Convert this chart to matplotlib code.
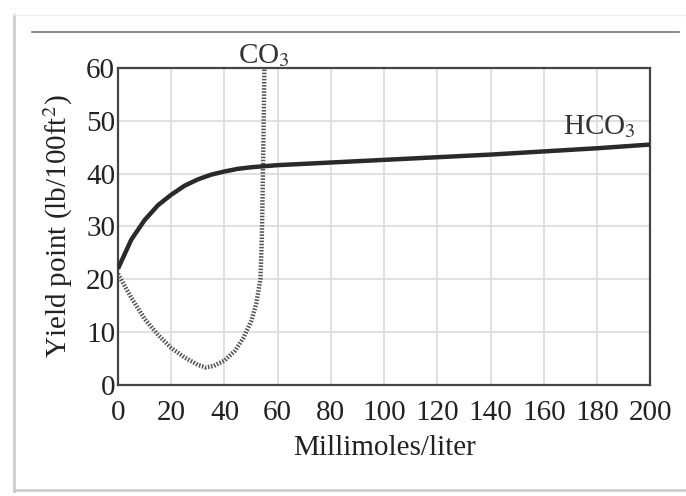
import matplotlib
matplotlib.use("Agg")
import matplotlib.pyplot as plt
from matplotlib.lines import Line2D

# HCO3 curve (solid)
hco3_x = [0, 5, 10, 15, 20, 25, 30, 35, 40, 45, 50, 60, 80, 100, 120, 140, 160, 180, 200]
hco3_y = [22, 27.5, 31.2, 34.0, 36.0, 37.7, 38.9, 39.8, 40.4, 40.9, 41.2, 41.6, 42.1, 42.6, 43.1, 43.6, 44.2, 44.8, 45.5]

# CO3 curve (dotted)
co3_x = [0, 5, 10, 15, 20, 25, 30, 33, 36, 40, 44, 47, 50, 52, 53.5, 54, 54.3, 54.6, 54.8, 55]
co3_y = [21, 16.5, 12.5, 9.5, 7.0, 5.2, 3.8, 3.3, 3.6, 4.6, 6.5, 8.8, 12.0, 15.5, 20.0, 27.0, 35.0, 45.0, 52.0, 60.0]

xticks = [0, 20, 40, 60, 80, 100, 120, 140, 160, 180, 200]
yticks = [0, 10, 20, 30, 40, 50, 60]

plt.rcParams["font.family"] = ["Liberation Serif", "DejaVu Serif"]
plt.rcParams["mathtext.fontset"] = "stix"

fig = plt.figure(figsize=(6.86, 4.96), dpi=100)
ax = fig.add_axes([0.172, 0.224, 0.776, 0.639])

ax.plot(co3_x, co3_y, color="#555555", lw=3.2, linestyle=(0, (0.35, 0.35)), zorder=3)
ax.plot(hco3_x, hco3_y, color="#2a2a2a", lw=3.2, solid_capstyle="butt", zorder=4)

ax.set_xlim(0, 200)
ax.set_ylim(0, 60)
ax.set_xticks(xticks)
ax.set_yticks(yticks)
ax.grid(True, color="#dcdcdc", lw=1.2)
ax.set_axisbelow(True)
ax.tick_params(length=0, labelsize=21, colors="#222222")
ax.tick_params(axis="x", pad=11)
ax.tick_params(axis="y", pad=2)
for s in ax.spines.values():
    s.set_color("#444444")
    s.set_linewidth(1.6)

ax.set_xlabel("Millimoles/liter", fontsize=21, color="#222222", labelpad=6)
ax.set_ylabel("Yield point (lb/100ft$^2$)", fontsize=21, color="#222222", labelpad=8)

ax.text(55, 59.8, "CO$_3$", ha="center", va="bottom", fontsize=21, color="#333333")
ax.text(181, 46.3, "HCO$_3$", ha="center", va="bottom", fontsize=21, color="#333333")

# page frame
fig.add_artist(Line2D([0.047, 0.99], [0.935, 0.935], color="#777777", lw=1.2))
fig.add_artist(Line2D([0.02, 0.02], [0.01, 0.97], color="#cccccc", lw=2))
fig.add_artist(Line2D([0.02, 1.0], [0.012, 0.012], color="#cccccc", lw=2))
fig.add_artist(Line2D([0.02, 1.0], [0.97, 0.97], color="#eeeeee", lw=1))

fig.savefig("out.png", dpi=100)
